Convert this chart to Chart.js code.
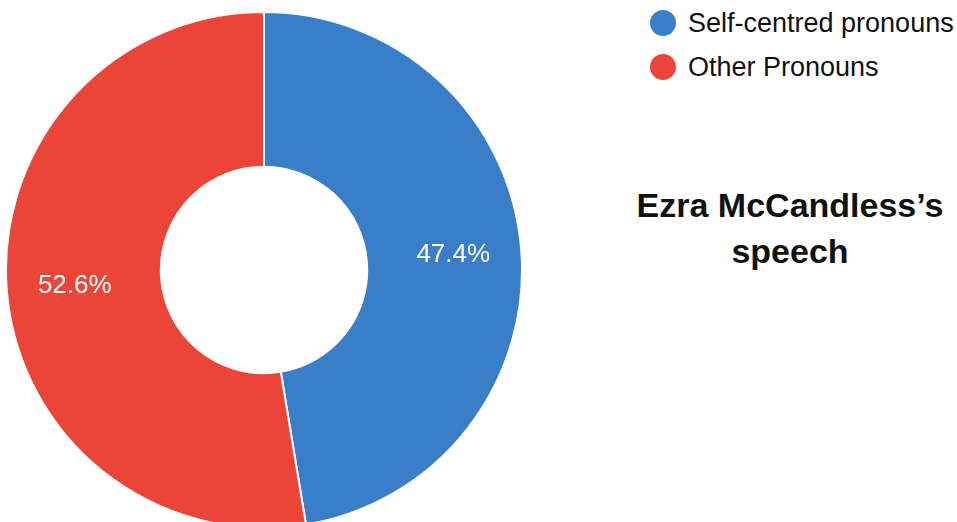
<!DOCTYPE html>
<html>
<head>
<meta charset="utf-8">
<script src="https://cdn.jsdelivr.net/npm/chart.js@4/dist/chart.umd.min.js"></script>
<style>
  html, body { margin: 0; padding: 0; width: 957px; height: 522px; overflow: hidden; background: #fff; }
  body { position: relative; font-family: "Liberation Sans", Arial, Helvetica, sans-serif; }
  #wrap { position: absolute; left: 5px; top: 11px; width: 518px; height: 518px; }
  .legend-item { position: absolute; left: 650px; height: 26px; font-size: 27px; line-height: 26px; color: #111; white-space: nowrap; }
  .legend-dot { position: absolute; left: 0; width: 26px; height: 26px; border-radius: 50%; }
  .legend-text { position: absolute; left: 38px; top: 0; }
  #title { position: absolute; left: 620px; top: 182px; width: 340px; text-align: center; font-size: 34px; line-height: 46px; font-weight: bold; color: #111; }
</style>
</head>
<body>
<div id="wrap"><canvas id="chart" width="518" height="518"></canvas></div>
<div id="legend"></div>
<div id="title">Ezra McCandless’s<br>speech</div>
<script>
// Pronoun share in the speech
const categories = ["Self-centred pronouns", "Other Pronouns"];
const shares = [47.4, 52.6];
const sliceColors = ["#3a7ec8", "#ea4538"];

// Legend built from the same categories and colours
const legend = document.getElementById("legend");
const legendTops = [10, 54];
categories.forEach((name, i) => {
  const item = document.createElement("div");
  item.className = "legend-item";
  item.style.top = legendTops[i] + "px";
  const dot = document.createElement("span");
  dot.className = "legend-dot";
  dot.style.background = sliceColors[i];
  const txt = document.createElement("span");
  txt.className = "legend-text";
  txt.textContent = name;
  item.appendChild(dot);
  item.appendChild(txt);
  legend.appendChild(item);
});

// Percentage labels placed inside each ring segment
const sliceLabels = {
  id: "sliceLabels",
  afterDatasetsDraw(chart) {
    const ctx = chart.ctx;
    const meta = chart.getDatasetMeta(0);
    ctx.save();
    ctx.fillStyle = "#ffffff";
    ctx.font = '26px "Liberation Sans", Arial, sans-serif';
    ctx.textAlign = "center";
    ctx.textBaseline = "middle";
    meta.data.forEach((arc, i) => {
      const p = arc.getProps(["x", "y", "startAngle", "endAngle", "innerRadius", "outerRadius"], true);
      const mid = (p.startAngle + p.endAngle) / 2;
      const r = p.innerRadius + (p.outerRadius - p.innerRadius) * 0.56;
      ctx.fillText(shares[i].toFixed(1) + "%", p.x + Math.cos(mid) * r, p.y + Math.sin(mid) * r);
    });
    ctx.restore();
  }
};

new Chart(document.getElementById("chart"), {
  type: "doughnut",
  data: {
    labels: categories,
    datasets: [{
      data: shares,
      backgroundColor: sliceColors,
      borderColor: "#ffffff",
      borderWidth: 2
    }]
  },
  options: {
    responsive: false,
    animation: false,
    cutout: "40%",
    layout: { padding: 0 },
    plugins: {
      legend: { display: false },
      tooltip: { enabled: false }
    }
  },
  plugins: [sliceLabels]
});
</script>
</body>
</html>
